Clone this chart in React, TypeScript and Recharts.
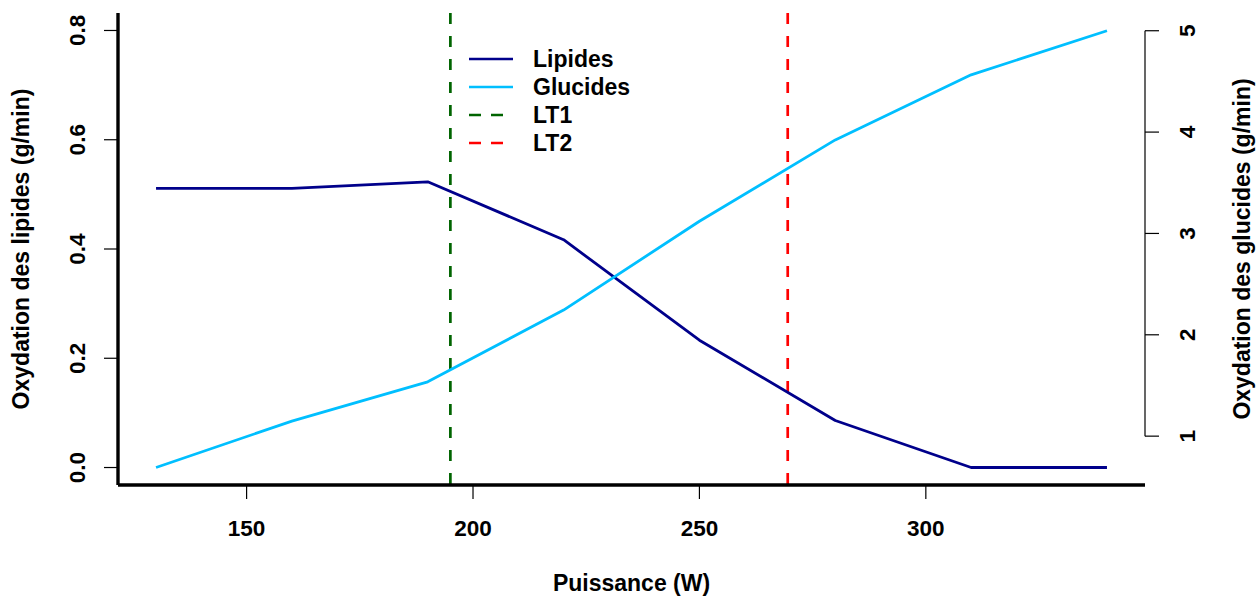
import React from 'react';
import { ComposedChart, Line, XAxis, YAxis, ReferenceLine, Legend, Label } from 'recharts';

const watts = [130, 160, 190, 220, 250, 280, 310, 340];
const lipides = [0.511, 0.511, 0.523, 0.417, 0.233, 0.086, 0, 0];
const glucides = [0.691, 1.148, 1.536, 2.244, 3.12, 3.923, 4.565, 5.0];
const thresholdNames = ['LT1', 'LT2'];
const thresholdValues = [195, 269.5];
const xTicks = [150, 200, 250, 300];
const leftTicks = [0, 0.2, 0.4, 0.6, 0.8];
const rightTicks = [1, 2, 3, 4, 5];
const seriesNames = ['Lipides', 'Glucides'];

const X_DOMAIN: [number, number] = [121.6, 348.4];
const LEFT_DOMAIN: [number, number] = [-0.032, 0.832];
const RIGHT_DOMAIN: [number, number] = [0.518, 5.175];

const FONT = '"Liberation Sans", Arial, Helvetica, sans-serif';
const FS_TICK = 22.5;
const FS = 23;

const COLORS = {
  Lipides: '#00008B',
  Glucides: '#00BFFF',
  LT1: '#006400',
  LT2: '#FF0000',
};

const data = watts.map((w, i) => ({ w, lipides: lipides[i], glucides: glucides[i] }));

const legendItems = [
  { label: seriesNames[0], color: COLORS.Lipides, dashed: false },
  { label: seriesNames[1], color: COLORS.Glucides, dashed: false },
  { label: thresholdNames[0], color: COLORS.LT1, dashed: true },
  { label: thresholdNames[1], color: COLORS.LT2, dashed: true },
];

const textProps = { fontFamily: FONT, fontSize: FS, fontWeight: 'bold' as const, fill: '#000' };
const tickProps = { ...textProps, fontSize: FS_TICK };

const XTick = (p: any) => (
  <text x={p.x} y={p.y + 35} textAnchor="middle" {...tickProps}>
    {p.payload.value}
  </text>
);

const LeftTick = (p: any) => {
  const bx = p.x - 17;
  return (
    <text x={bx} y={p.y} transform={`rotate(-90 ${bx} ${p.y})`} textAnchor="middle" {...tickProps}>
      {Number(p.payload.value).toFixed(1)}
    </text>
  );
};

const RightTick = (p: any) => {
  const bx = p.x + 34;
  return (
    <text x={bx} y={p.y} transform={`rotate(-90 ${bx} ${p.y})`} textAnchor="middle" {...tickProps}>
      {p.payload.value}
    </text>
  );
};

const renderLegend = () => (
  <svg width={200} height={120} style={{ display: 'block', overflow: 'visible' }}>
    {legendItems.map((it, i) => {
      const cy = 19 + i * 28;
      return (
        <g key={it.label}>
          <line
            x1={9}
            x2={53}
            y1={cy}
            y2={cy}
            stroke={it.color}
            strokeWidth={2.7}
            strokeDasharray={it.dashed ? '12 10' : undefined}
          />
          <text x={73} y={cy + 8} {...textProps}>
            {it.label}
          </text>
        </g>
      );
    })}
  </svg>
);

export default function App() {
  return (
    <div style={{ position: 'absolute', left: 0, top: 0, background: '#fff' }}>
      <ComposedChart width={1258} height={597} data={data} margin={{ top: 13, right: 0, bottom: 0, left: 0 }}>
        <XAxis
          dataKey="w"
          type="number"
          domain={X_DOMAIN}
          ticks={xTicks}
          allowDataOverflow
          height={112}
          tickSize={14}
          axisLine={{ stroke: '#000', strokeWidth: 3.4 }}
          tickLine={{ stroke: '#000', strokeWidth: 1.2 }}
          tick={<XTick />}
        >
          <Label
            content={(props: any) => {
              const vb = props.viewBox;
              return (
                <text x={vb.x + vb.width / 2} y={vb.y + 106} textAnchor="middle" {...textProps}>
                  Puissance (W)
                </text>
              );
            }}
          />
        </XAxis>
        <YAxis
          yAxisId="left"
          orientation="left"
          type="number"
          domain={LEFT_DOMAIN}
          ticks={leftTicks}
          allowDataOverflow
          width={118}
          tickSize={14}
          axisLine={{ stroke: '#000', strokeWidth: 3.4 }}
          tickLine={{ stroke: '#000', strokeWidth: 1.2 }}
          tick={<LeftTick />}
        >
          <Label
            content={(props: any) => {
              const vb = props.viewBox;
              const bx = vb.x + 29;
              const cy = vb.y + vb.height / 2;
              return (
                <text x={bx} y={cy} transform={`rotate(-90 ${bx} ${cy})`} textAnchor="middle" {...textProps}>
                  Oxydation des lipides (g/min)
                </text>
              );
            }}
          />
        </YAxis>
        <YAxis
          yAxisId="right"
          orientation="right"
          type="number"
          domain={RIGHT_DOMAIN}
          ticks={rightTicks}
          allowDataOverflow
          width={113}
          tickSize={14}
          axisLine={false}
          tickLine={{ stroke: '#000', strokeWidth: 1.2 }}
          tick={<RightTick />}
        >
          <Label
            content={(props: any) => {
              const vb = props.viewBox;
              const bx = vb.x + 105;
              const cy = vb.y + vb.height / 2;
              return (
                <text x={bx} y={cy} transform={`rotate(-90 ${bx} ${cy})`} textAnchor="middle" {...textProps}>
                  Oxydation des glucides (g/min)
                </text>
              );
            }}
          />
        </YAxis>
        <ReferenceLine
          yAxisId="right"
          segment={[
            { x: X_DOMAIN[1], y: rightTicks[0] },
            { x: X_DOMAIN[1], y: rightTicks[rightTicks.length - 1] },
          ]}
          stroke="#000"
          strokeWidth={1.2}
          ifOverflow="visible"
        />
        {thresholdValues.map((v, i) => (
          <ReferenceLine
            key={thresholdNames[i]}
            yAxisId="left"
            segment={[
              { x: v, y: LEFT_DOMAIN[1] },
              { x: v, y: LEFT_DOMAIN[0] },
            ]}
            stroke={COLORS[thresholdNames[i] as 'LT1' | 'LT2']}
            strokeWidth={2.7}
            strokeDasharray="11 12"
            ifOverflow="visible"
          />
        ))}
        <Line
          yAxisId="left"
          dataKey="lipides"
          name={seriesNames[0]}
          stroke={COLORS.Lipides}
          strokeWidth={2.8}
          dot={false}
          activeDot={false}
          type="linear"
          isAnimationActive={false}
          strokeLinejoin="round"
        />
        <Line
          yAxisId="right"
          dataKey="glucides"
          name={seriesNames[1]}
          stroke={COLORS.Glucides}
          strokeWidth={2.8}
          dot={false}
          activeDot={false}
          type="linear"
          isAnimationActive={false}
          strokeLinejoin="round"
        />
        <Legend
          layout="vertical"
          align="center"
          verticalAlign="middle"
          content={renderLegend}
          wrapperStyle={{ left: 460, top: 40, width: 200, height: 120 }}
        />
      </ComposedChart>
    </div>
  );
}
